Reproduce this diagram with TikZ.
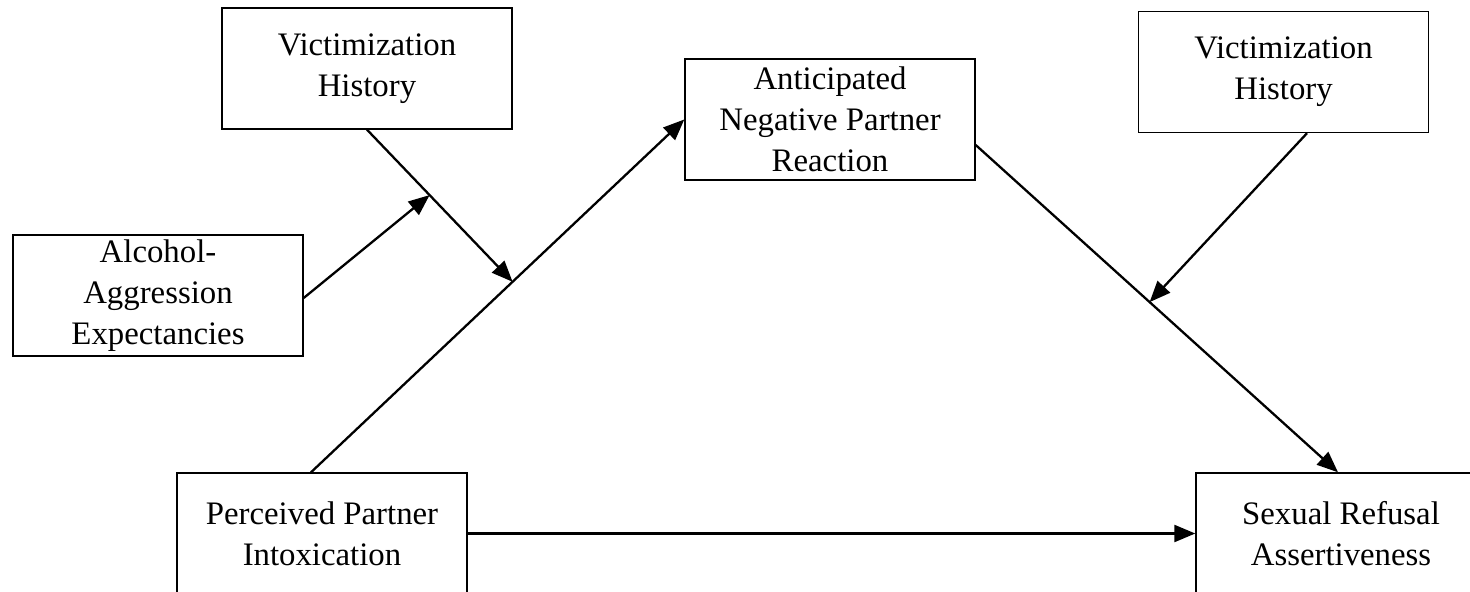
\documentclass[tikz,border=0pt]{standalone}
\usepackage{fontspec}
\setmainfont{Liberation Serif}
\usetikzlibrary{arrows.meta,calc}
\begin{document}
\begin{tikzpicture}[x=0.5pt,y=-0.5pt,
 box/.style={draw, line width=0.7pt, minimum width=145pt, minimum height=60.5pt, inner sep=0pt, align=center, font=\fontsize{16.4}{20.5}\selectfont},
 arr/.style={line width=1.15pt, -{Triangle[length=10.5pt,width=8.5pt]}}]
\useasboundingbox (0,0) rectangle (1470,592);
\clip (0,0) rectangle (1470,592);
\node[box] (vhl) at (367,68.5) {Victimization\\History};
\node[box] (vhr) at (1283.5,72) {Victimization\\History};
\node[box] (anpr) at (830,119.5) {Anticipated\\Negative Partner\\Reaction};
\node[box] (aae) at (158,295.5) {Alcohol-\\Aggression\\Expectancies};
\node[box] (ppi) at (322,533.5) {Perceived Partner\\Intoxication};
\node[box] (sra) at (1341,533.5) {Sexual Refusal\\Assertiveness};
\coordinate (p1) at ($(ppi.north)+(-11,0)$);
\coordinate (a1) at ($(anpr.east)+(0,25.5)$);
\coordinate (s1) at ($(sra.north)+(-3,0)$);
\coordinate (v1) at ($(vhr.south)+(23.5,0)$);
\coordinate (e1) at ($(aae.east)+(0,2.5)$);
\draw[arr] (p1) -- coordinate[pos=0.54] (m1) (anpr.west);
\draw[arr] (vhl.south) -- coordinate[pos=0.43] (m2) (m1);
\draw[arr] (e1) -- (m2);
\draw[arr] (a1) -- coordinate[pos=0.48] (m3) (s1);
\draw[arr] (v1) -- (m3);
\draw[arr] (ppi.east) -- (sra.west);
\end{tikzpicture}
\end{document}
